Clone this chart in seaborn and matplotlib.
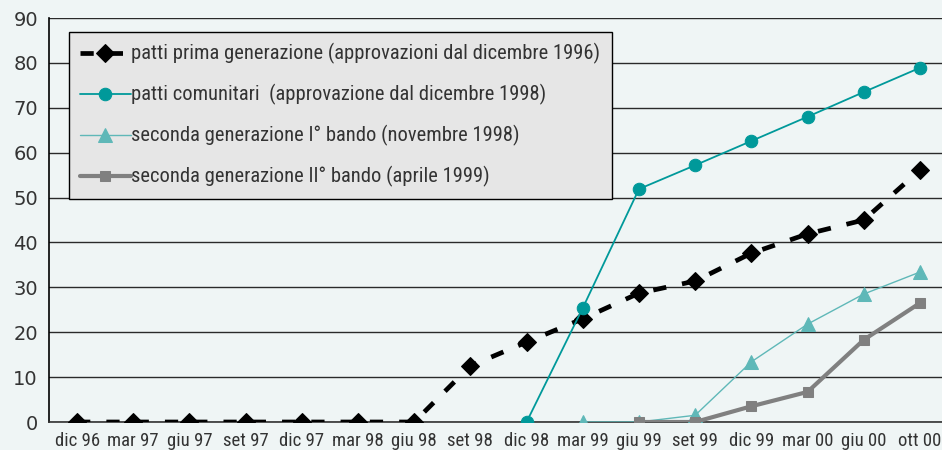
import numpy as np
import pandas as pd
import matplotlib
matplotlib.use("Agg")
import matplotlib.pyplot as plt
import seaborn as sns

periodi = ["dic 96", "mar 97", "giu 97", "set 97", "dic 97", "mar 98", "giu 98", "set 98",
           "dic 98", "mar 99", "giu 99", "set 99", "dic 99", "mar 00", "giu 00", "ott 00"]

nan = np.nan
prima_generazione = [0, 0, 0, 0, 0, 0, 0, 12.5, 17.8, 23.0, 28.7, 31.4, 37.6, 41.9, 45.0, 56.1]
patti_comunitari = [nan, nan, nan, nan, nan, nan, nan, nan, 0, 25.4, 51.9, 57.2, 62.6, 68.0, 73.5, 78.9]
seconda_I_bando = [nan, nan, nan, nan, nan, nan, nan, nan, nan, 0, 0, 1.5, 13.4, 21.8, 28.5, 33.4]
seconda_II_bando = [nan, nan, nan, nan, nan, nan, nan, nan, nan, nan, 0, 0, 3.5, 6.7, 18.3, 26.5]

etichette = [
    "patti prima generazione (approvazioni dal dicembre 1996)",
    "patti comunitari  (approvazione dal dicembre 1998)",
    "seconda generazione I° bando (novembre 1998)",
    "seconda generazione II° bando (aprile 1999)",
]

sns.set_theme(style="white")
plt.rcParams["font.family"] = ["Roboto Condensed", "Roboto", "DejaVu Sans"]

bg = "#eff5f5"
fig = plt.figure(figsize=(9.42, 4.5), dpi=100, facecolor=bg)
ax = fig.add_axes([49 / 942, 1 - 422 / 450, 899 / 942, 404 / 450])
ax.set_facecolor(bg)

x = np.arange(len(periodi))
df = pd.DataFrame({"x": x,
                   "prima": prima_generazione,
                   "comunitari": patti_comunitari,
                   "secI": seconda_I_bando,
                   "secII": seconda_II_bando})

stili = [
    ("prima", dict(color="black", lw=3.4, marker="D", markersize=9, dashes=(2.8, 3.4))),
    ("comunitari", dict(color="#00999a", lw=1.3, marker="o", markersize=9)),
    ("secI", dict(color="#5fb8b8", lw=1.0, marker="^", markersize=10)),
    ("secII", dict(color="#808080", lw=3.0, marker="s", markersize=7.5)),
]

for (col, st), lab in zip(stili, etichette):
    d = df[["x", col]].dropna()
    sns.lineplot(data=d, x="x", y=col, ax=ax, label=lab, color=st["color"],
                 linewidth=st["lw"], marker=st["marker"], markersize=st["markersize"],
                 markeredgecolor=st["color"], markerfacecolor=st["color"], zorder=3)
    if "dashes" in st:
        ax.lines[-1].set_dashes(st["dashes"])

ax.set_xlim(-0.5, 15.5)
ax.set_ylim(0, 90)
ax.set_yticks(range(0, 91, 10))
ax.set_xticks(x)
ax.set_xticklabels(periodi, fontsize=13.5, color="#333333")
ax.set_xticks(np.arange(-0.5, 15.6, 1), minor=True)
ax.tick_params(axis="x", which="major", length=0, pad=7)
ax.tick_params(axis="x", which="minor", length=5, width=1, color="black", direction="out")
ax.tick_params(axis="y", length=5, width=1, color="black", direction="out", pad=3,
               labelsize=14, labelcolor="#333333")
for t in ax.get_yticklabels():
    t.set_family(["DejaVu Sans"])
ax.set_xlabel("")
ax.set_ylabel("")

ax.grid(axis="y", color="#2a2a2a", linewidth=1.0)
ax.grid(axis="x", visible=False)
for s in ["top", "right"]:
    ax.spines[s].set_visible(False)
ax.spines["left"].set_color("black")
ax.spines["left"].set_linewidth(1.2)
ax.spines["bottom"].set_color("#333333")
ax.spines["bottom"].set_linewidth(1.2)
ax.set_axisbelow(True)

leg = ax.legend(loc="upper left", bbox_to_anchor=(20 / 899, 1 - 14 / 404), fontsize=14.8,
                frameon=True, fancybox=False, facecolor="#e6e6e6", edgecolor="black",
                framealpha=1, handlelength=2.45, handletextpad=0.03, labelspacing=0.97,
                borderpad=0.55, borderaxespad=0)
leg.get_frame().set_linewidth(1.0)
for t in leg.get_texts():
    t.set_color("#333333")

fig.savefig("out.png", dpi=100, facecolor=bg)
